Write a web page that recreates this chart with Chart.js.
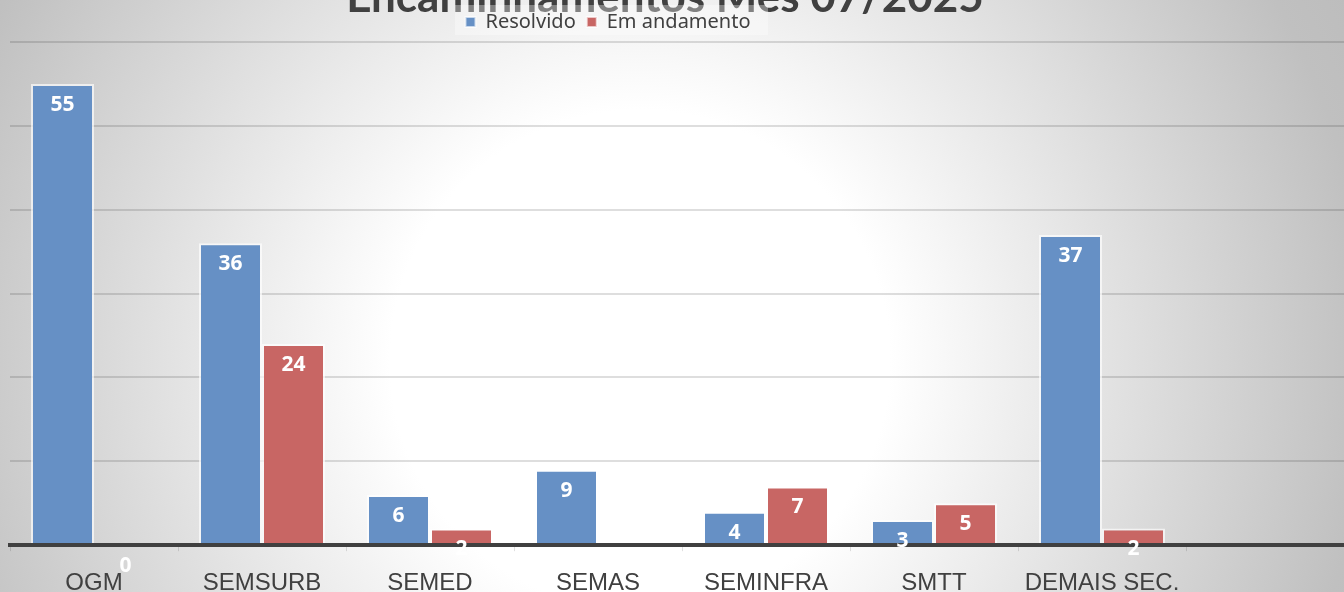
<!DOCTYPE html>
<html>
<head>
<meta charset="utf-8">
<script src="https://cdn.jsdelivr.net/npm/chart.js@4.4.1/dist/chart.umd.min.js"></script>
<style>
    html, body { margin: 0; padding: 0; overflow: hidden; }
    body {
        width: 1344px;
        height: 592px;
        background: radial-gradient(circle at 640px 360px, #ffffff 0px, #ffffff 250px, #c0c0c0 730px, #b8b8b8 900px);
    }
    #wrap { position: relative; width: 1354px; height: 616px; }
</style>
</head>
<body>
<div id="wrap"><canvas id="chart"></canvas></div>
<script>
const chartTitle = 'Encaminhamentos Mês 07/2025';
const categories = ['OGM', 'SEMSURB', 'SEMED', 'SEMAS', 'SEMINFRA', 'SMTT', 'DEMAIS SEC.', ''];
const resolvido = [55, 36, 6, 9, 4, 3, 37, null];
const emAndamento = [0, 24, 2, null, 7, 5, 2, null];
const yMax = 60;
const yStep = 10;

// title sits behind the legend, partly cut off at the top
const titlePlugin = {
    id: 'titleBehind',
    afterLayout(chart) {
        // legend is a bit left of the canvas centre in the original
        chart.legend.left -= 74;
        chart.legend.right -= 74;
    },
    beforeDraw(chart) {
        const ctx = chart.ctx;
        ctx.save();
        ctx.font = 'bold 44px Lato';
        ctx.fillStyle = '#404040';
        ctx.textAlign = 'center';
        ctx.textBaseline = 'alphabetic';
        ctx.fillText(chartTitle, 665, 12);

        // faint backdrop under the legend
        ctx.fillStyle = 'rgba(255,255,255,0.35)';
        ctx.fillRect(455, 5, 313, 30);
        ctx.restore();
    }
};

// value labels: white, just under the top of each bar
const valueLabels = {
    id: 'valueLabels',
    afterDraw(chart) {
        const ctx = chart.ctx;
        ctx.save();
        ctx.font = 'bold 21px "Noto Sans"';
        ctx.fillStyle = '#ffffff';
        ctx.textAlign = 'center';
        ctx.textBaseline = 'middle';
        chart.data.datasets.forEach((ds, i) => {
            const meta = chart.getDatasetMeta(i);
            meta.data.forEach((bar, j) => {
                const v = ds.data[j];
                if (v === null || v === undefined) return;
                ctx.fillText(String(v), bar.x, bar.y + 21);
            });
        });
        ctx.restore();
    }
};

const ctx = document.getElementById('chart').getContext('2d');
new Chart(ctx, {
    type: 'bar',
    data: {
        labels: categories,
        datasets: [
            {
                label: 'Resolvido',
                data: resolvido,
                backgroundColor: '#6690c5',
                borderColor: 'rgba(255,255,255,0.65)',
                borderWidth: 2,
                categoryPercentage: 0.75,
                barPercentage: 1
            },
            {
                label: 'Em andamento',
                data: emAndamento,
                backgroundColor: '#c86664',
                borderColor: 'rgba(255,255,255,0.65)',
                borderWidth: 2,
                categoryPercentage: 0.75,
                barPercentage: 1
            }
        ]
    },
    options: {
        responsive: true,
        maintainAspectRatio: false,
        animation: false,
        layout: {
            padding: { left: 10, right: 0, top: 1, bottom: 0 }
        },
        plugins: {
            title: { display: false },
            tooltip: { enabled: false },
            legend: {
                position: 'top',
                labels: {
                    boxWidth: 10,
                    boxHeight: 10,
                    padding: 11,
                    color: '#404040',
                    font: { family: '"Noto Sans"', size: 20 }
                }
            }
        },
        scales: {
            x: {
                grid: {
                    drawOnChartArea: false,
                    drawTicks: true,
                    tickLength: 6,
                    color: 'rgba(0,0,0,0.12)'
                },
                border: { color: '#404040', width: 4, z: 1 },
                ticks: {
                    color: '#404040',
                    padding: 18,
                    font: { family: '"Liberation Sans"', size: 24 }
                }
            },
            y: {
                min: 0,
                max: yMax,
                ticks: { display: false, stepSize: yStep },
                border: { display: false },
                grid: {
                    color: 'rgba(0,0,0,0.13)',
                    lineWidth: 2,
                    drawTicks: false
                }
            }
        }
    },
    plugins: [titlePlugin, valueLabels]
});
</script>
</body>
</html>
